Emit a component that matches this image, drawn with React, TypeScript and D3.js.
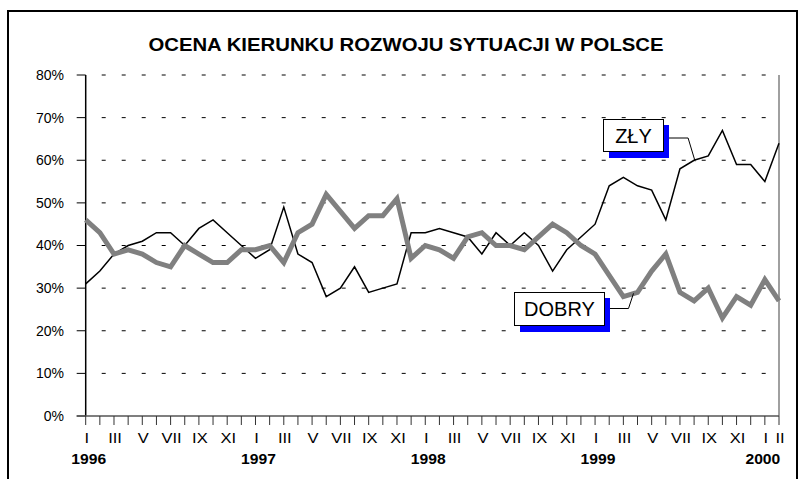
import React from 'react';
import * as d3 from 'd3';

// miesiące: I 1996 .. II 2000
const zly = [31, 34, 38, 40, 41, 43, 43, 40, 44, 46, 43, 40,
  37, 39, 49, 38, 36, 28, 30, 35, 29, 30, 31, 43,
  43, 44, 43, 42, 38, 43, 40, 43, 40, 34, 39, 42,
  45, 54, 56, 54, 53, 46, 58, 60, 61, 67, 59, 59, 55, 64];
const dobry = [46, 43, 38, 39, 38, 36, 35, 40, 38, 36, 36, 39,
  39, 40, 36, 43, 45, 52, 48, 44, 47, 47, 51, 37,
  40, 39, 37, 42, 43, 40, 40, 39, 42, 45, 43, 40,
  38, 33, 28, 29, 34, 38, 29, 27, 30, 23, 28, 26, 32, 27];
const romanMonths = ['I', 'II', 'III', 'IV', 'V', 'VI', 'VII', 'VIII', 'IX', 'X', 'XI', 'XII'];
const years = ['1996', '1997', '1998', '1999', '2000'];
const yTicks = [0, 10, 20, 30, 40, 50, 60, 70, 80];

const W = 809, H = 479;
const font = 'Liberation Sans, Arial, sans-serif';

export default function App() {
  const x = d3.scaleLinear().domain([0, zly.length - 1]).range([85.7, 779]);
  const y = d3.scaleLinear().domain([0, 80]).range([416, 75]);

  const line = d3.line<number>()
    .x((d, i) => x(i))
    .y(d => y(d));

  const idx = d3.range(zly.length);

  // etykiety serii
  const zlyPt = 43, dobryPt = 39;

  return (
    <svg width={W} height={H} style={{ position: 'fixed', left: 0, top: 0, background: '#fff' }}>
      <rect x={8} y={11} width={789} height={480} fill="#fff" stroke="#000" strokeWidth={2} />
      <text transform="translate(406,51) scale(1.13,1)" textAnchor="middle" fontFamily={font} fontWeight="bold" fontSize={18}>
        OCENA KIERUNKU ROZWOJU SYTUACJI W POLSCE
      </text>

      {/* siatka */}
      {yTicks.filter(t => t > 0).map(t => (
        <line key={'g' + t} x1={x(0)} x2={x(49)} y1={y(t)} y2={y(t)}
          stroke="#000" strokeWidth={1} strokeDasharray="4,16" strokeDashoffset={-16} />
      ))}
      <line x1={x(49)} x2={x(49)} y1={y(80)} y2={y(0)} stroke="#808080" strokeWidth={1.5} />

      {/* oś Y */}
      <line x1={x(0)} x2={x(0)} y1={y(80)} y2={y(0)} stroke="#000" strokeWidth={1.5} />
      {yTicks.map(t => (
        <g key={'y' + t}>
          <line x1={x(0) - 9} x2={x(0)} y1={y(t)} y2={y(t)} stroke="#000" strokeWidth={1} />
          <text x={64} y={y(t)} dy="0.35em" textAnchor="end" fontFamily={font} fontSize={14}>{t}%</text>
        </g>
      ))}

      {/* oś X */}
      <line x1={x(0) - 9} x2={x(49)} y1={y(0)} y2={y(0)} stroke="#555" strokeWidth={1.5} />
      {idx.map(i => (
        <line key={'xt' + i} x1={x(i)} x2={x(i)} y1={y(0)} y2={y(0) + 9} stroke="#333" strokeWidth={1} />
      ))}
      {idx.filter(i => i % 2 === 0 || i === zly.length - 1).map(i => (
        <text key={'m' + i} transform={`translate(${x(i) + 1},443) scale(1.1,1)`} textAnchor="middle" fontFamily={font} fontSize={15}>
          {romanMonths[i % 12]}
        </text>
      ))}
      {years.map((yr, k) => (
        <text key={yr} transform={`translate(${x(k * 12) + (k === years.length - 1 ? -2 : 3)},464) scale(1.12,1)`} textAnchor="middle"
          fontFamily={font} fontWeight="bold" fontSize={14}>{yr}</text>
      ))}

      {/* serie */}
      <path d={line(zly) || ''} fill="none" stroke="#000" strokeWidth={1.5} strokeLinejoin="miter" />
      <path d={line(dobry) || ''} fill="none" stroke="#808080" strokeWidth={5} strokeLinejoin="miter" />

      {/* ZŁY */}
      <polyline points={`669,138 ${x(zlyPt) - 6},138 ${x(zlyPt) + 1},${y(zly[zlyPt]) + 1}`}
        fill="none" stroke="#000" strokeWidth={1} />
      <rect x={609} y={125} width={60} height={33} fill="#0000ff" />
      <rect x={603.5} y={119.5} width={60} height={32} fill="#fff" stroke="#000" strokeWidth={1} />
      <text x={633.5} y={143} textAnchor="middle" fontFamily={font} fontSize={20}>ZŁY</text>

      {/* DOBRY */}
      <polyline points={`610,308.5 ${x(dobryPt) - 9},308.5 ${x(dobryPt) - 4},${y(dobry[dobryPt]) + 1}`}
        fill="none" stroke="#000" strokeWidth={1} />
      <rect x={520} y={298} width={90} height={34} fill="#0000ff" />
      <rect x={514.5} y={292.5} width={90} height={33} fill="#fff" stroke="#000" strokeWidth={1} />
      <text x={559.5} y={316} textAnchor="middle" fontFamily={font} fontSize={20}>DOBRY</text>
    </svg>
  );
}
